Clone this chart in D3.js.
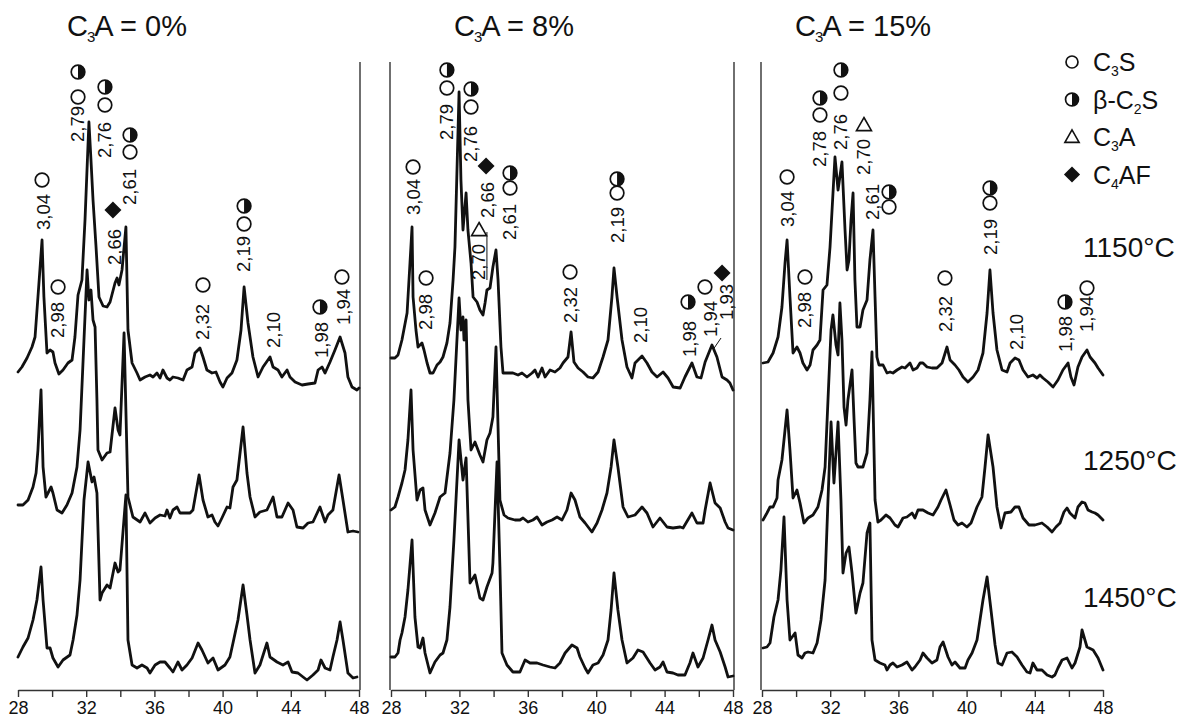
<!DOCTYPE html>
<html><head><meta charset="utf-8">
<script src="https://cdn.jsdelivr.net/npm/d3@7"></script>
<style>
body{margin:0;background:#fff}
svg{display:block}
text{font-family:"Liberation Sans",Arial,Helvetica,sans-serif;fill:#111}
</style>
</head><body>
<svg id="chart" width="1182" height="718"></svg>
<script>
// ---------------- DATA ----------------
const panelTitles = ["0%", "8%", "15%"];
const temperatures = ["1150°C", "1250°C", "1450°C"];
const stackOffsets = [290, 140, 0];            // vertical shift of each temperature pattern (intensity units)
const xTicks = [28, 30, 32, 34, 36, 38, 40, 42, 44, 46, 48];
const xTickLabels = [28, 32, 36, 40, 44, 48];
const legendItems = [["o", "C", "3", "S"], ["h", "β-C", "2", "S"], ["t", "C", "3", "A"], ["d", "C", "4", "AF"]];

// [2θ (deg), intensity (a.u.)]
const c0_1150 = [[28.00,28],[28.23,33],[28.53,42],[28.82,53],[29.00,63],[29.17,103],[29.41,160],[29.52,103],[29.70,47],[29.88,50],[30.05,48],[30.17,37],[30.40,26],[30.64,30],[30.93,37],[31.17,40],[31.34,63],[31.52,105],[31.75,120],[31.93,180],[32.16,278],[32.28,240],[32.40,200],[32.57,155],[32.75,103],[32.99,94],[33.22,93],[33.40,98],[33.69,117],[33.81,122],[33.92,115],[34.10,130],[34.33,173],[34.45,70],[34.69,37],[34.98,27],[35.16,20],[35.45,23],[35.74,25],[35.92,23],[36.15,27],[36.33,22],[36.50,30],[36.74,22],[36.91,20],[37.09,23],[37.38,22],[37.68,20],[37.91,30],[38.21,33],[38.38,47],[38.67,52],[38.85,43],[39.08,30],[39.38,27],[39.61,28],[39.85,18],[40.02,13],[40.26,22],[40.55,27],[40.84,40],[41.08,70],[41.26,113],[41.49,77],[41.78,43],[42.08,23],[42.37,33],[42.78,43],[42.96,33],[43.25,30],[43.48,23],[43.78,30],[43.95,23],[44.25,18],[44.66,15],[45.01,16],[45.42,17],[45.60,30],[45.83,33],[46.01,27],[46.30,38],[46.59,50],[46.89,63],[47.18,47],[47.35,23],[47.59,13],[47.88,10],[48.00,12]];
const c0_1250 = [[28.00,45],[28.29,45],[28.59,50],[28.88,63],[29.06,77],[29.17,100],[29.35,160],[29.47,83],[29.64,53],[29.94,63],[30.05,57],[30.29,40],[30.58,37],[30.87,45],[31.17,57],[31.46,83],[31.64,120],[31.87,210],[32.05,280],[32.16,250],[32.28,260],[32.40,230],[32.52,223],[32.63,150],[32.69,100],[32.93,90],[33.22,97],[33.40,98],[33.69,142],[33.87,120],[33.98,115],[34.22,217],[34.45,53],[34.74,33],[35.16,28],[35.45,37],[35.74,27],[36.04,32],[36.33,35],[36.62,34],[36.74,40],[36.91,32],[37.09,40],[37.33,43],[37.50,37],[38.09,37],[38.26,40],[38.62,75],[38.85,50],[39.14,33],[39.38,35],[39.55,28],[39.73,24],[39.96,32],[40.26,43],[40.43,42],[40.61,63],[40.84,70],[41.20,123],[41.43,77],[41.61,53],[41.90,33],[42.19,38],[42.60,40],[42.96,53],[43.19,33],[43.48,33],[43.84,47],[44.13,40],[44.36,23],[44.72,22],[45.01,27],[45.30,28],[45.71,43],[46.01,28],[46.18,35],[46.47,40],[46.83,75],[47.06,50],[47.35,18],[47.65,19],[47.94,18]];
const c0_1450 = [[28.00,33],[28.29,43],[28.59,52],[28.88,70],[29.11,90],[29.35,123],[29.47,90],[29.70,42],[29.88,42],[30.05,32],[30.35,23],[30.64,30],[31.05,35],[31.23,50],[31.46,75],[31.64,110],[31.87,190],[32.11,228],[32.34,208],[32.46,213],[32.63,197],[32.81,90],[32.93,97],[33.22,105],[33.40,102],[33.69,127],[33.87,118],[33.98,120],[34.33,195],[34.45,50],[34.69,25],[34.98,22],[35.27,25],[35.57,22],[35.74,17],[36.04,25],[36.33,28],[36.62,28],[36.91,22],[37.09,18],[37.38,28],[37.62,20],[37.91,25],[38.21,32],[38.56,47],[38.79,40],[39.14,27],[39.44,32],[39.73,20],[40.14,25],[40.43,33],[40.61,47],[40.90,70],[41.20,105],[41.43,75],[41.61,50],[41.90,17],[42.19,25],[42.60,47],[42.78,33],[43.19,28],[43.54,25],[43.84,28],[44.07,18],[44.42,17],[44.72,13],[44.95,10],[45.30,15],[45.60,20],[45.77,30],[46.01,22],[46.30,20],[46.47,33],[46.71,50],[46.89,68],[47.06,50],[47.35,17],[47.65,12],[47.88,13]];

const c1_1150 = [[28.00,42],[28.23,42],[28.41,45],[28.64,60],[28.94,87],[29.11,137],[29.23,173],[29.29,103],[29.46,70],[29.58,53],[29.81,57],[29.93,50],[30.11,37],[30.28,27],[30.46,27],[30.69,35],[30.87,38],[31.04,43],[31.27,57],[31.45,77],[31.63,120],[31.74,153],[31.98,308],[32.09,220],[32.21,170],[32.39,207],[32.50,170],[32.68,137],[32.80,103],[33.03,98],[33.20,90],[33.38,85],[33.50,97],[33.61,110],[33.79,112],[33.96,133],[34.14,150],[34.26,120],[34.43,53],[34.55,27],[34.84,27],[35.13,27],[35.43,25],[35.66,27],[35.95,23],[36.25,27],[36.42,30],[36.60,23],[36.83,32],[37.01,23],[37.30,30],[37.59,28],[37.88,32],[38.06,37],[38.35,43],[38.53,68],[38.70,38],[38.94,32],[39.23,28],[39.52,23],[39.81,22],[40.11,28],[40.40,43],[40.69,60],[40.92,103],[41.04,132],[41.22,103],[41.51,60],[41.80,33],[42.09,22],[42.27,37],[42.68,44],[42.97,37],[43.26,28],[43.56,23],[43.91,28],[44.20,22],[44.50,13],[44.91,12],[45.19,23],[45.60,37],[45.89,23],[46.13,22],[46.37,38],[46.77,55],[47.06,43],[47.36,23],[47.65,20],[47.82,17],[48.00,10]];
const c1_1250 = [[28.00,40],[28.23,43],[28.41,53],[28.64,67],[28.82,80],[28.99,110],[29.17,160],[29.29,100],[29.52,50],[29.70,60],[29.87,62],[29.99,40],[30.28,25],[30.57,37],[30.87,53],[31.16,57],[31.45,97],[31.68,150],[31.98,252],[32.09,220],[32.21,233],[32.27,210],[32.39,230],[32.50,150],[32.68,100],[32.91,108],[33.20,95],[33.38,88],[33.61,110],[33.79,117],[33.96,133],[34.14,203],[34.37,50],[34.61,35],[34.84,32],[35.25,30],[35.54,30],[35.72,32],[36.01,28],[36.30,30],[36.54,33],[36.83,25],[37.12,28],[37.42,30],[37.71,33],[38.00,30],[38.29,40],[38.53,57],[38.76,50],[39.05,33],[39.35,27],[39.75,18],[40.05,27],[40.34,40],[40.63,57],[40.87,83],[41.04,110],[41.27,83],[41.57,43],[41.86,33],[42.27,35],[42.68,43],[42.97,37],[43.32,23],[43.73,32],[44.14,23],[44.49,22],[44.91,23],[45.08,22],[45.60,37],[45.89,27],[46.25,27],[46.37,40],[46.66,67],[46.95,47],[47.25,42],[47.54,28],[47.71,22],[48.00,20]];
const c1_1450 = [[28.00,33],[28.23,33],[28.41,37],[28.53,50],[28.64,57],[28.82,73],[28.99,100],[29.23,150],[29.40,73],[29.58,43],[29.70,42],[29.87,52],[29.99,37],[30.28,17],[30.57,28],[30.87,35],[31.04,37],[31.27,50],[31.45,83],[31.68,150],[31.98,250],[32.21,210],[32.39,232],[32.62,107],[32.91,115],[33.20,92],[33.38,90],[33.61,103],[33.91,117],[33.96,127],[34.20,228],[34.37,123],[34.49,37],[34.78,25],[35.13,18],[35.54,18],[35.84,30],[36.13,27],[36.54,27],[36.89,25],[37.30,23],[37.59,22],[37.88,27],[38.18,37],[38.58,45],[38.88,42],[39.05,33],[39.35,22],[39.52,17],[39.81,25],[40.11,27],[40.40,35],[40.69,50],[40.87,80],[41.04,117],[41.27,80],[41.51,50],[41.80,27],[42.15,32],[42.44,40],[42.74,38],[43.15,27],[43.44,20],[43.73,23],[43.91,28],[44.14,18],[44.49,17],[44.78,15],[45.19,15],[45.48,27],[45.66,37],[45.95,23],[46.25,32],[46.54,50],[46.77,65],[46.95,50],[47.25,38],[47.54,23],[47.71,13],[48.00,14]];

const c2_1150 = [[28.06,37],[28.35,38],[28.65,47],[28.94,63],[29.17,93],[29.35,137],[29.47,160],[29.64,103],[29.82,47],[30.05,53],[30.23,47],[30.40,37],[30.64,30],[30.82,35],[30.99,50],[31.23,55],[31.40,60],[31.58,110],[31.81,115],[31.99,153],[32.28,243],[32.46,210],[32.69,238],[32.87,170],[32.99,130],[33.10,140],[33.22,180],[33.34,207],[33.45,120],[33.57,73],[33.75,73],[33.92,90],[34.16,100],[34.33,140],[34.51,170],[34.63,103],[34.74,43],[34.86,35],[35.10,35],[35.33,27],[35.51,28],[35.68,27],[35.92,30],[36.21,33],[36.39,32],[36.68,37],[36.86,30],[37.09,32],[37.27,37],[37.44,37],[37.68,33],[37.97,32],[38.26,32],[38.56,37],[38.85,53],[39.03,40],[39.32,35],[39.55,30],[39.79,23],[40.08,18],[40.38,23],[40.67,30],[40.96,47],[41.20,87],[41.37,130],[41.55,87],[41.78,50],[42.08,30],[42.37,28],[42.55,37],[42.84,42],[43.07,40],[43.31,30],[43.60,23],[43.89,25],[44.13,22],[44.30,25],[44.48,22],[44.77,18],[45.07,13],[45.36,20],[45.65,30],[45.95,37],[46.12,23],[46.30,15],[46.53,33],[46.77,43],[47.06,50],[47.24,43],[47.53,37],[47.71,32],[48.00,25]];
const c2_1250 = [[28.06,30],[28.29,37],[28.47,43],[28.65,43],[28.88,52],[28.94,70],[29.17,90],[29.35,120],[29.47,140],[29.64,100],[29.82,52],[30.05,60],[30.23,47],[30.46,27],[30.70,32],[30.99,35],[31.28,43],[31.52,60],[31.70,83],[31.87,150],[32.05,220],[32.16,235],[32.34,205],[32.46,195],[32.57,247],[32.69,210],[32.81,143],[32.93,125],[33.04,150],[33.28,180],[33.40,130],[33.51,87],[33.63,83],[33.92,83],[34.16,97],[34.33,150],[34.45,198],[34.63,50],[34.80,28],[34.98,30],[35.27,35],[35.51,32],[35.80,25],[35.98,23],[36.27,32],[36.50,33],[36.80,37],[36.97,32],[37.15,40],[37.44,40],[37.74,37],[38.03,35],[38.32,43],[38.50,50],[38.79,60],[39.03,45],[39.26,30],[39.50,25],[39.73,27],[40.02,23],[40.26,27],[40.61,43],[40.90,53],[41.08,83],[41.26,115],[41.55,83],[41.78,43],[42.02,22],[42.25,37],[42.60,38],[42.84,43],[43.07,43],[43.31,32],[43.66,25],[44.01,25],[44.42,27],[44.72,23],[45.01,18],[45.24,23],[45.48,27],[45.71,38],[45.89,42],[46.06,37],[46.36,32],[46.53,43],[46.77,48],[46.94,47],[47.12,40],[47.36,38],[47.53,37],[47.71,35],[48.00,30]];
const c2_1450 = [[28.06,42],[28.29,43],[28.47,47],[28.70,73],[28.94,90],[29.11,120],[29.29,173],[29.47,90],[29.64,50],[29.94,57],[30.11,35],[30.35,32],[30.52,37],[30.70,38],[30.99,37],[31.23,47],[31.46,70],[31.70,110],[31.87,190],[32.05,268],[32.22,207],[32.46,268],[32.63,190],[32.75,117],[32.93,137],[33.10,143],[33.28,117],[33.51,77],[33.75,97],[33.92,107],[34.16,157],[34.33,167],[34.45,50],[34.63,30],[34.92,27],[35.21,25],[35.33,20],[35.51,25],[35.68,27],[35.92,23],[36.21,25],[36.50,28],[36.80,20],[36.97,23],[37.27,30],[37.44,37],[37.68,32],[37.97,27],[38.26,30],[38.44,43],[38.62,48],[38.91,33],[39.14,25],[39.32,28],[39.61,22],[39.91,22],[40.08,30],[40.32,37],[40.61,50],[40.96,90],[41.20,113],[41.43,80],[41.67,45],[41.84,27],[42.08,25],[42.37,37],[42.66,38],[42.96,33],[43.25,25],[43.54,18],[43.72,17],[43.89,27],[44.13,20],[44.42,20],[44.72,15],[45.01,13],[45.18,15],[45.36,22],[45.60,30],[45.89,32],[46.18,22],[46.36,27],[46.65,43],[46.77,60],[47.06,43],[47.42,40],[47.71,32],[48.00,20]];

// peak annotations: [d-spacing label, 2θ, level of label start, [[symbol, 2θ, level], ...]]
const ann0 = [
  ["3,04", 29.47, 460, [["o", 29.41, 510]]],
  ["2,98", 30.29, 352, [["o", 30.35, 403]]],
  ["2,79", 31.46, 548, [["o", 31.52, 593], ["h", 31.52, 618]]],
  ["2,76", 33.04, 532, [["o", 33.10, 585], ["h", 33.10, 603]]],
  ["2,66", 33.63, 425, [["d", 33.57, 480]]],
  ["2,61", 34.51, 485, [["o", 34.57, 538], ["h", 34.57, 555]]],
  ["2,32", 38.79, 350, [["o", 38.85, 405]]],
  ["2,19", 41.20, 418, [["o", 41.26, 466], ["h", 41.26, 484]]],
  ["2,10", 42.96, 342, []],
  ["1,98", 45.77, 332, [["h", 45.71, 383]]],
  ["1,94", 47.06, 365, [["o", 47.00, 413]]]
];
const ann1 = [
  ["3,04", 29.29, 475, [["o", 29.29, 523]]],
  ["2,98", 29.99, 360, [["o", 30.05, 412]]],
  ["2,79", 31.22, 550, [["o", 31.27, 602], ["h", 31.27, 620]]],
  ["2,76", 32.62, 528, [["o", 32.68, 583], ["h", 32.68, 601]]],
  ["2,70", 33.09, 410, [["t", 33.15, 460]]],
  ["2,66", 33.61, 472, [["d", 33.56, 524]]],
  ["2,61", 34.90, 450, [["o", 34.96, 502], ["h", 34.96, 517]]],
  ["2,32", 38.47, 367, [["o", 38.47, 418]]],
  ["2,19", 41.22, 447, [["o", 41.22, 497], ["h", 41.22, 511]]],
  ["2,10", 42.56, 347, []],
  ["1,98", 45.43, 333, [["h", 45.37, 388]]],
  ["1,94", 46.65, 353, [["o", 46.36, 403]]],
  ["1,93", 47.59, 370, [["d", 47.36, 417]]]
];
const ann2 = [
  ["3,04", 29.47, 463, [["o", 29.47, 513]]],
  ["2,98", 30.46, 362, [["o", 30.52, 413]]],
  ["2,78", 31.34, 523, [["o", 31.40, 575], ["h", 31.40, 592]]],
  ["2,76", 32.57, 540, [["o", 32.63, 597], ["h", 32.63, 620]]],
  ["2,70", 33.92, 515, [["t", 33.98, 565]]],
  ["2,61", 34.45, 470, [["o", 35.45, 483], ["h", 35.45, 498]]],
  ["2,32", 38.73, 358, [["o", 38.73, 412]]],
  ["2,19", 41.37, 435, [["o", 41.37, 487], ["h", 41.37, 502]]],
  ["2,10", 42.90, 340, []],
  ["1,98", 45.77, 338, [["h", 45.77, 388]]],
  ["1,94", 47.00, 358, [["o", 47.06, 402]]]
];
// thin leader lines [2θ1, level1, 2θ2, level2]
const leaders1 = [[33.61, 458, 33.61, 410], [46.90, 342, 47.30, 352]];

// ---------------- DRAWING ----------------
const svg = d3.select("#chart");
svg.append("rect").attr("width", 1182).attr("height", 718).attr("fill", "#fff");
const FONT = '"Liberation Sans", Arial, Helvetica, sans-serif';
const panelRanges = [[18, 359], [391, 733], [762, 1103]];
const frameSides = [[false, true], [true, true], [true, false]];
const titleX = [67, 454, 795];
const y = d3.scaleLinear().domain([0, 630]).range([690, 60]);
const traces = [[c0_1150, c0_1250, c0_1450], [c1_1150, c1_1250, c1_1450], [c2_1150, c2_1250, c2_1450]];
const annotations = [ann0, ann1, ann2];
const leaders = [[], leaders1, []];

function drawSymbol(g, type, cx, cy, s) {
  s = s || 1;
  const r = 6.8 * s;
  if (type === "o") {
    g.append("circle").attr("cx", cx).attr("cy", cy).attr("r", r)
      .attr("fill", "#fff").attr("stroke", "#111").attr("stroke-width", 1.7);
  } else if (type === "h") {
    g.append("circle").attr("cx", cx).attr("cy", cy).attr("r", r)
      .attr("fill", "#fff").attr("stroke", "#111").attr("stroke-width", 1.7);
    g.append("path").attr("d", `M${cx},${cy - r} A${r},${r} 0 0 1 ${cx},${cy + r} Z`).attr("fill", "#111");
  } else if (type === "t") {
    const a = 7.5 * s;
    g.append("path").attr("d", `M${cx},${cy - a} L${cx + a},${cy + a * 0.75} L${cx - a},${cy + a * 0.75} Z`)
      .attr("fill", "none").attr("stroke", "#111").attr("stroke-width", 1.6).attr("stroke-linejoin", "miter");
  } else if (type === "d") {
    const a = 8.5 * s;
    g.append("path").attr("d", `M${cx},${cy - a} L${cx + a},${cy} L${cx},${cy + a} L${cx - a},${cy} Z`).attr("fill", "#111");
  }
}

panelRanges.forEach((range, i) => {
  const x = d3.scaleLinear().domain([28, 48]).range(range);
  const g = svg.append("g");

  // frame lines
  frameSides[i].forEach((on, k) => {
    if (!on) return;
    const xx = k === 0 ? x(28) - 1 : x(48) + 1;
    g.append("line").attr("x1", xx).attr("x2", xx).attr("y1", 62).attr("y2", y(0))
      .attr("stroke", "#333").attr("stroke-width", 1.4);
  });

  // x axis
  const axis = d3.axisBottom(x).tickValues(xTicks).tickSize(7).tickSizeOuter(0).tickPadding(4)
    .tickFormat(d => xTickLabels.includes(d) ? String(d) : "");
  const ag = g.append("g").attr("transform", `translate(0,${y(0)})`).call(axis);
  ag.attr("font-family", FONT);
  ag.select(".domain").attr("stroke", "#333").attr("stroke-width", 1.5);
  ag.selectAll(".tick line").attr("stroke", "#333").attr("stroke-width", 1.4);
  ag.selectAll(".tick text").attr("font-size", 18).attr("fill", "#111");

  // patterns
  const line = d3.line().x(d => x(d[0]));
  traces[i].forEach((tr, k) => {
    const off = stackOffsets[k];
    g.append("path").datum(tr)
      .attr("d", line.y(d => y(d[1] + off)))
      .attr("fill", "none").attr("stroke", "#111").attr("stroke-width", 2.8)
      .attr("stroke-linejoin", "round").attr("stroke-linecap", "round");
  });

  // leader lines
  leaders[i].forEach(l => {
    g.append("line").attr("x1", x(l[0])).attr("y1", y(l[1])).attr("x2", x(l[2])).attr("y2", y(l[3]))
      .attr("stroke", "#111").attr("stroke-width", 1);
  });

  // annotations
  annotations[i].forEach(a => {
    g.append("text")
      .attr("transform", `translate(${x(a[1])},${y(a[2])}) rotate(-90)`)
      .attr("dy", "0.36em").attr("font-size", 18.5).text(a[0]);
    a[3].forEach(s => drawSymbol(g, s[0], x(s[1]), y(s[2])));
  });

  // title
  const t = svg.append("text").attr("x", titleX[i]).attr("y", 36).attr("font-size", 29);
  t.append("tspan").text("C");
  t.append("tspan").attr("font-size", 15).attr("dy", 6).attr("dx", -1).text("3");
  t.append("tspan").attr("dy", -6).attr("dx", -1).text("A = " + panelTitles[i]);
});

// temperature labels
const tempY = [257, 470, 607];
temperatures.forEach((tl, k) => {
  svg.append("text").attr("x", 1083).attr("y", tempY[k]).attr("font-size", 28).text(tl);
});

// legend
legendItems.forEach((it, k) => {
  const cy = 62 + k * 37.5;
  drawSymbol(svg, it[0], 1072, cy, it[0] === "o" ? 0.88 : 0.95);
  const t = svg.append("text").attr("x", 1093).attr("y", cy + 9).attr("font-size", 25);
  t.append("tspan").text(it[1]);
  t.append("tspan").attr("font-size", 14).attr("dy", 5).text(it[2]);
  t.append("tspan").attr("dy", -5).text(it[3]);
});
</script>
</body></html>
